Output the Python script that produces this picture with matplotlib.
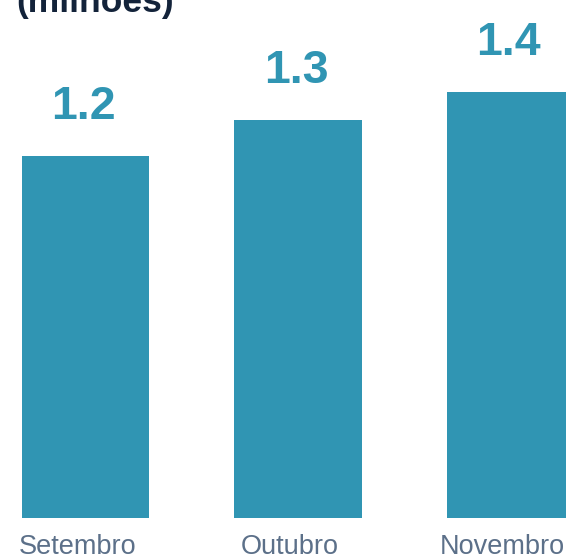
import matplotlib.pyplot as plt
import numpy as np

plt.rcParams["font.family"] = ["Liberation Sans", "DejaVu Sans"]

# dados (milhões)
meses = ["Setembro", "Outubro", "Novembro"]
valores = [1.19, 1.31, 1.40]
titulo = "(milhões)"

BAR = "#3095b3"
TICK = "#5c7089"
TITLE = "#13233a"

fig = plt.figure(figsize=(5.66, 5.59), dpi=100)
ax = fig.add_axes([0, 41 / 559, 1, 518 / 559])

x = np.arange(len(meses))
bars = ax.bar(x, valores, width=0.602, color=BAR, linewidth=0)

for b, v in zip(bars, valores):
    ax.annotate(f"{v:.1f}", xy=(b.get_x() + b.get_width() / 2, v),
                xytext=(-2, 37), textcoords="offset pixels",
                ha="center", va="baseline", fontsize=33.5,
                fontweight="bold", color=BAR, annotation_clip=False)

for xi, m in zip(x, meses):
    ax.annotate(m, xy=(xi, 0), xytext=(-8, -36), textcoords="offset pixels",
                ha="center", va="baseline", fontsize=19.5, color=TICK,
                annotation_clip=False)

ax.set_xlim(-85.5 / 212.5, (566 - 85.5) / 212.5)
ax.set_ylim(0, 518 / 304)
ax.axis("off")

fig.text(16 / 566, 1 - 12 / 559, titulo, ha="left", va="baseline",
         fontsize=25.5, fontweight="bold", color=TITLE)

plt.savefig("out.png", dpi=100)
